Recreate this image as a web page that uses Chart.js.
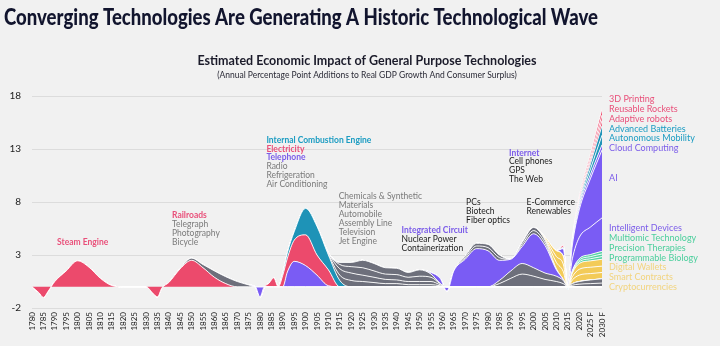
<!DOCTYPE html>
<html>
<head>
<meta charset="utf-8">
<script src="https://cdn.jsdelivr.net/npm/chart.js@4.4.1/dist/chart.umd.min.js"></script>
<style>
  html, body { margin: 0; padding: 0; background: #f1f1f1; }
  canvas { display: block; }
</style>
</head>
<body>
<canvas id="wave" width="720" height="346"></canvas>
<script>
// every layer is sampled on the same years so Chart.js can stack them
const years = [1780, 1783, 1785, 1787, 1790, 1795, 1800, 1805, 1810, 1815, 1820, 1830, 1833, 1835, 1837,
  1840, 1845, 1850, 1855, 1860, 1865, 1870, 1875, 1878, 1880, 1882, 1884, 1886, 1888, 1890, 1892, 1895,
  1900, 1905, 1910, 1915, 1920, 1925, 1930, 1935, 1940, 1945, 1950, 1955, 1959, 1962, 1965, 1970, 1975,
  1980, 1985, 1990, 1995, 2000, 2005, 2010, 2013, 2015, 2017, 2020, 2025, 2030];

const forecastYears = [2025, 2030];
const yTickValues = [-2, 3, 8, 13, 18];

// [year, percentage points] — years not listed are 0
const steamAndRailroads = [[1783, -0.55], [1785, -1.0], [1787, -0.45], [1790, 0.5], [1795, 1.5], [1800, 2.45],
  [1805, 1.85], [1810, 0.8], [1815, 0.12], [1833, -0.6], [1835, -0.95], [1837, -0.1], [1840, 0.4],
  [1845, 1.7], [1850, 2.5], [1855, 1.8], [1860, 0.9], [1865, 0.3]];
const telegraph = [[1845, 0.05], [1850, 0.2], [1855, 0.3], [1860, 0.6], [1865, 0.65], [1870, 0.5], [1875, 0.18]];
const telephone = [[1880, -0.95], [1892, 1.4], [1895, 2.4], [1900, 2.0], [1905, 1.1], [1910, 0.1]];
const electricity = [[1884, 0.35], [1886, 0.85], [1890, 1.1], [1892, 1.3], [1895, 2.0], [1900, 2.9],
  [1905, 1.9], [1910, 1.5]];
const combustion = [[1890, 0.2], [1892, 0.5], [1895, 0.8], [1900, 2.5], [1905, 2.7], [1910, 1.4], [1915, 0.6]];
const chemicals = [[1910, 0.1], [1915, 0.5], [1920, 0.6], [1925, 0.5], [1930, 0.4], [1935, 0.3], [1940, 0.3],
  [1945, 0.2], [1950, 0.2], [1955, 0.2], [1959, 0.1]];
const automobile = [[1910, 0.1], [1915, 0.6], [1920, 0.7], [1925, 0.6], [1930, 0.5], [1935, 0.4], [1940, 0.35],
  [1945, 0.3], [1950, 0.3], [1955, 0.3], [1959, 0.1]];
const assemblyLine = [[1915, 0.4], [1920, 0.6], [1925, 0.7], [1930, 0.6], [1935, 0.5], [1940, 0.5],
  [1945, 0.4], [1950, 0.5], [1955, 0.4], [1959, 0.1]];
const jetEngine = [[1915, 0.2], [1920, 0.4], [1925, 0.7], [1930, 0.7], [1935, 0.6], [1940, 0.6],
  [1945, 0.45], [1950, 0.6], [1955, 0.3]];
const fiberOptics = [[1985, 0.3], [1990, 0.8], [1995, 1.2], [2000, 1.0], [2005, 0.7], [2010, 0.5], [2013, 0.3],
  [2017, 0.15], [2020, 0.25], [2025, 0.3], [2030, 0.35]];
const renewables = [[1985, 0.3], [1990, 0.7], [1995, 1.0], [2000, 0.8], [2005, 0.6], [2010, 0.5], [2013, 0.3],
  [2017, 0.15], [2020, 0.25], [2025, 0.35], [2030, 0.4]];
const circuitAndInternet = [[1955, 0.15], [1959, 0.5], [1962, -0.4], [1965, 1.5], [1970, 2.6], [1975, 3.6],
  [1980, 3.4], [1985, 1.9], [1990, 1.1], [1995, 1.6], [2000, 3.2], [2005, 2.6], [2010, 0.6], [2013, 0.1]];
const pcs = [[1970, 0.15], [1975, 0.25], [1980, 0.3], [1985, 0.25], [1995, 0.2], [2000, 0.3], [2005, 0.25], [2010, 0.05]];
const biotech = [[1970, 0.15], [1975, 0.25], [1980, 0.3], [1985, 0.25], [1995, 0.2], [2000, 0.3], [2005, 0.25], [2010, 0.05]];
const cryptocurrencies = [[2005, 0.1], [2010, 0.6], [2013, 0.75], [2017, 0.35], [2020, 0.6], [2025, 0.6], [2030, 0.6]];
const smartContracts = [[2005, 0.1], [2010, 0.55], [2013, 0.7], [2017, 0.3], [2020, 0.55], [2025, 0.6], [2030, 0.6]];
const digitalWallets = [[2005, 0.1], [2010, 0.55], [2013, 0.75], [2017, 0.35], [2020, 0.55], [2025, 0.6], [2030, 0.65]];
const programmableBiology = [[2017, 0.08], [2020, 0.15], [2025, 0.2], [2030, 0.25]];
const precisionTherapies = [[2017, 0.08], [2020, 0.15], [2025, 0.2], [2030, 0.25]];
const multiomic = [[2017, 0.08], [2020, 0.15], [2025, 0.2], [2030, 0.25]];
const intelligentDevices = [[2013, 0.7], [2017, 1.1], [2020, 2.0], [2025, 2.6], [2030, 3.15]];
const ai = [[2017, 1.3], [2020, 2.6], [2025, 4.6], [2030, 6.4]];
const cloudComputing = [[2017, 0.15], [2020, 0.3], [2025, 0.4], [2030, 0.5]];
const autonomousMobility = [[2013, 0.1], [2015, -0.25], [2017, 0.1], [2020, 0.2], [2025, 0.5], [2030, 0.9]];
const advancedBatteries = [[2017, 0.1], [2020, 0.2], [2025, 0.5], [2030, 0.9]];
const adaptiveRobots = [[2013, 0.2], [2017, 0.1], [2020, 0.2], [2025, 0.3], [2030, 0.5]];
const reusableRockets = [[2017, 0.05], [2020, 0.15], [2025, 0.3], [2030, 0.5]];
const printing3d = [[2017, 0.1], [2020, 0.2], [2025, 0.35], [2030, 0.6]];

const PINK = '#ec4a6c';
const GRAY = '#6d6f7b';
const PURPLE = '#7a5cf4';
const TEAL = '#1e93b7';
const YELLOW = '#f3cb58';
const GREEN = '#55d3a2';

// bottom of the stack first
const layers = [
  [steamAndRailroads, PINK], [telegraph, GRAY], [telephone, PURPLE], [electricity, PINK], [combustion, TEAL],
  [chemicals, GRAY], [automobile, GRAY], [assemblyLine, GRAY], [jetEngine, GRAY],
  [fiberOptics, GRAY], [renewables, GRAY], [circuitAndInternet, PURPLE], [pcs, GRAY], [biotech, GRAY],
  [cryptocurrencies, YELLOW], [smartContracts, YELLOW], [digitalWallets, YELLOW],
  [programmableBiology, GREEN], [precisionTherapies, GREEN], [multiomic, GREEN],
  [intelligentDevices, PURPLE], [ai, PURPLE], [cloudComputing, PURPLE],
  [autonomousMobility, TEAL], [advancedBatteries, TEAL],
  [adaptiveRobots, PINK], [reusableRockets, PINK], [printing3d, PINK]
];

function onYears(pairs) {
  const byYear = new Map(pairs);
  return years.map(x => ({ x, y: byYear.has(x) ? byYear.get(x) : 0 }));
}

const tPink = '#e9507a', tPurple = '#7b5ce9', tTeal = '#1b9cc2', tGray = '#7a7a7a', tDark = '#222222';
const tGreen = '#4ccf9d', tYellow = '#f2d47f';

// text blocks anchored in data space: first line at (year, value), then `step` px per line
const notes = [
  { year: 1791, value: 4.23, step: 9, size: 8.5, lines: [['Steam Engine', tPink, true]] },
  { year: 1841.4, value: 6.77, step: 9, size: 8.5, lines: [['Railroads', tPink, true], ['Telegraph', tGray],
    ['Photography', tGray], ['Bicycle', tGray]] },
  { year: 1882.8, value: 13.85, step: 8.8, size: 8.5, lines: [['Internal Combustion Engine', tTeal, true],
    ['Electricity', tPink, true], ['Telephone', tPurple, true], ['Radio', tGray], ['Refrigeration', tGray],
    ['Air Conditioning', tGray]] },
  { year: 1914.5, value: 8.57, step: 9, size: 8.5, lines: [['Chemicals & Synthetic', tGray], ['Materials', tGray],
    ['Automobile', tGray], ['Assembly Line', tGray], ['Television', tGray], ['Jet Engine', tGray]] },
  { year: 1942.1, value: 5.29, step: 8.8, size: 8.5, lines: [['Integrated Circuit', tPurple, true],
    ['Nuclear Power', tDark], ['Containerization', tDark]] },
  { year: 1970.4, value: 8.0, step: 9, size: 8.5, lines: [['PCs', tDark], ['Biotech', tDark], ['Fiber optics', tDark]] },
  { year: 1989.2, value: 12.62, step: 8.7, size: 8.5, lines: [['Internet', tPurple, true], ['Cell phones', tDark],
    ['GPS', tDark], ['The Web', tDark]] },
  { year: 1996.9, value: 8.0, step: 9, size: 8.5, lines: [['E-Commerce', tDark], ['Renewables', tDark]] },
  { year: 2033.1, value: 17.72, step: 9.9, size: 9, lines: [['3D Printing', tPink], ['Reusable Rockets', tPink],
    ['Adaptive robots', tPink], ['Advanced Batteries', tTeal], ['Autonomous Mobility', tTeal],
    ['Cloud Computing', tPurple]] },
  { year: 2033.1, value: 10.26, step: 9.9, size: 9, lines: [['AI', tPurple]] },
  { year: 2033.1, value: 5.57, step: 9.95, size: 9, lines: [['Intelligent Devices', tPurple],
    ['Multiomic Technology', tGreen], ['Precision Therapies', tGreen], ['Programmable Biology', tGreen],
    ['Digital Wallets', tYellow], ['Smart Contracts', tYellow], ['Cryptocurrencies', tYellow]] }
];

const TITLE = 'Converging Technologies Are Generating A Historic Technological Wave';

const decorations = {
  id: 'decorations',
  beforeDraw(chart) {
    const { ctx, width, height } = chart;
    ctx.save();
    ctx.fillStyle = '#f1f1f1';
    ctx.fillRect(0, 0, width, height);
    ctx.restore();
  },
  afterDraw(chart) {
    const { ctx } = chart;
    const x = chart.scales.x, y = chart.scales.y;
    ctx.save();
    ctx.textBaseline = 'alphabetic';
    ctx.textAlign = 'left';
    ctx.fillStyle = '#12152e';
    ctx.font = '900 22px Lato';
    // headline face is narrower than Lato: squeeze it to its 594px run
    const squeeze = Math.min(1, 594 / ctx.measureText(TITLE).width);
    ctx.save();
    ctx.translate(4, 25);
    ctx.scale(squeeze, 1);
    ctx.fillText(TITLE, 0, 0);
    ctx.restore();

    ctx.textAlign = 'center';
    ctx.fillStyle = '#1b1b2a';
    ctx.font = 'bold 12.5px Lato';
    ctx.fillText('Estimated Economic Impact of General Purpose Technologies', 367, 65);
    ctx.font = '8.5px Lato';
    ctx.fillStyle = '#2a2a36';
    ctx.fillText('(Annual Percentage Point Additions to Real GDP Growth And Consumer Surplus)', 367, 78);

    ctx.textAlign = 'left';
    ctx.textBaseline = 'middle';
    notes.forEach(n => {
      const px = x.getPixelForValue(n.year);
      const py = y.getPixelForValue(n.value);
      n.lines.forEach(([text, color, bold], i) => {
        ctx.font = (bold ? 'bold ' : '') + n.size + 'px Lato';
        ctx.fillStyle = color;
        ctx.fillText(text, px, py + i * n.step);
      });
    });
    ctx.restore();
  }
};

new Chart(document.getElementById('wave'), {
  type: 'line',
  data: {
    datasets: layers.map(([values, color], i) => ({
      data: onYears(values),
      backgroundColor: color,
      borderColor: '#ffffff',
      borderWidth: 0.9,
      pointRadius: 0,
      tension: 0.4,
      cubicInterpolationMode: 'monotone',
      fill: i === 0 ? 'origin' : '-1'
    }))
  },
  options: {
    responsive: false,
    animation: false,
    layout: { padding: { top: 96, right: 118, left: 0, bottom: 0 } },
    plugins: { legend: { display: false }, tooltip: { enabled: false } },
    scales: {
      x: {
        type: 'linear',
        min: 1780,
        max: 2030,
        grid: { display: false, drawTicks: false },
        border: { display: false },
        afterFit(scale) { scale.height = 38; },
        ticks: {
          stepSize: 5,
          autoSkip: false,
          minRotation: 90,
          maxRotation: 90,
          padding: 4,
          color: '#222',
          font: { family: 'Lato', size: 8 },
          callback: v => forecastYears.includes(v) ? v + ' F' : String(v)
        }
      },
      y: {
        stacked: true,
        min: -2,
        max: 18,
        afterBuildTicks(scale) { scale.ticks = yTickValues.map(value => ({ value })); },
        afterFit(scale) { scale.width = 32; },
        grid: { color: '#dcdcdc', drawTicks: false },
        border: { display: false },
        ticks: { padding: 11, color: '#222', font: { family: 'Lato', size: 10 } }
      }
    }
  },
  plugins: [decorations]
});
</script>
</body>
</html>
